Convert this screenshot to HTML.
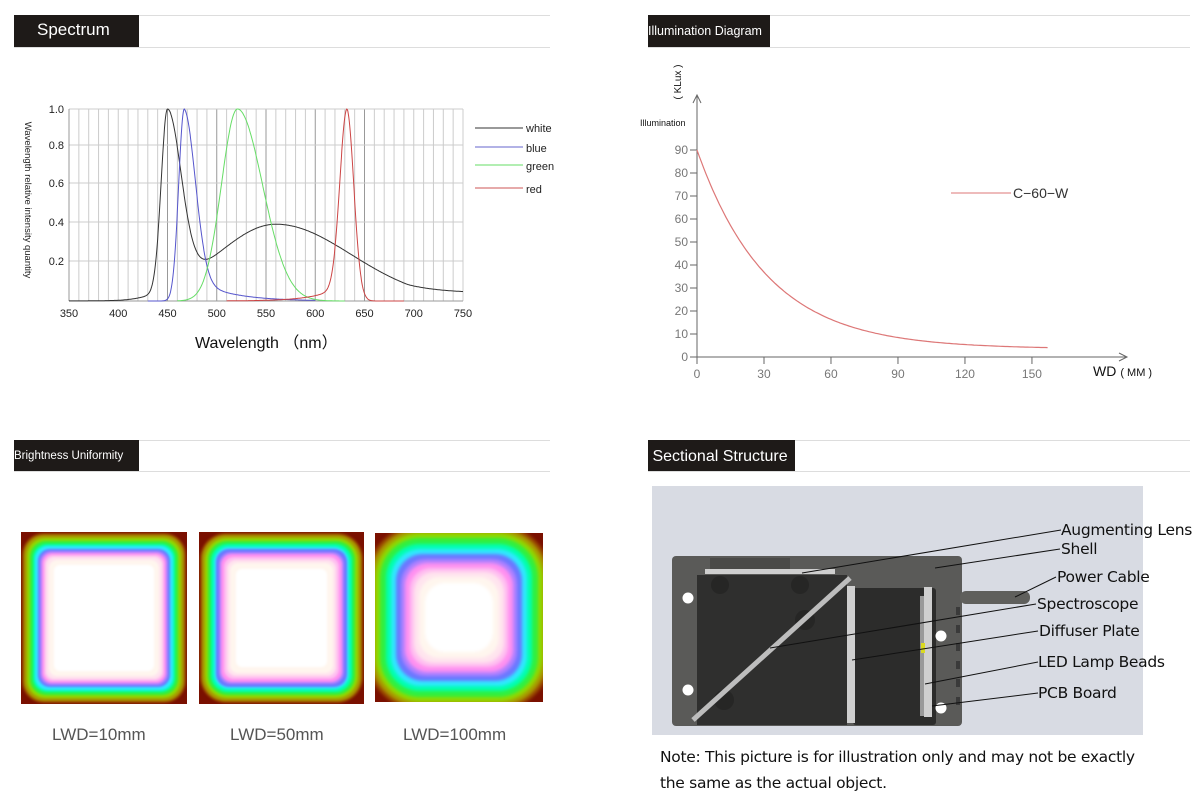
<!DOCTYPE html>
<html><head><meta charset="utf-8"><style>
body{margin:0;width:1198px;height:808px;background:#fff;overflow:hidden;position:relative;font-family:"Liberation Sans",sans-serif}
.hd{position:absolute;background:#1e1a18;color:#fff;white-space:nowrap}
.ln{position:absolute;height:1px;background:#ddd}
.hm{position:absolute;overflow:hidden}
.hm div{position:absolute}
.lab{position:absolute;font-size:17px;color:#555}
</style></head><body>
<div class="ln" style="left:14px;top:15px;width:536px"></div><div class="ln" style="left:14px;top:47px;width:536px"></div>
<div class="hd" style="left:14px;top:15px;width:125px;height:32px;font-size:17px;line-height:30px;"><span style="padding-left:23px">Spectrum</span></div>
<div class="ln" style="left:648px;top:15px;width:542px"></div><div class="ln" style="left:648px;top:47px;width:542px"></div>
<div class="hd" style="left:648px;top:15px;width:122px;height:32px;font-size:12.5px;line-height:32px;">Illumination Diagram</div>
<div class="ln" style="left:14px;top:440px;width:536px"></div><div class="ln" style="left:14px;top:471px;width:536px"></div>
<div class="hd" style="left:14px;top:440px;width:125px;height:31px;font-size:11.5px;line-height:33px;">Brightness Uniformity</div>
<div class="ln" style="left:648px;top:440px;width:542px"></div><div class="ln" style="left:648px;top:471px;width:542px"></div>
<div class="hd" style="left:648px;top:440px;width:147px;height:31px;font-size:16px;line-height:33px;">&nbsp;Sectional Structure</div>

<svg id="sp" width="600" height="380" style="position:absolute;left:0;top:0" font-family="Liberation Sans,sans-serif">
<g id="grid"></g>
<g font-size="11" fill="#222" text-anchor="end">
<text x="64" y="113">1.0</text><text x="64" y="149">0.8</text><text x="64" y="187">0.6</text><text x="64" y="226">0.4</text><text x="64" y="265">0.2</text></g>
<g font-size="11" fill="#222" text-anchor="middle" id="xl"></g>
<text transform="translate(25,200) rotate(90)" text-anchor="middle" font-size="9.5" fill="#222">Wavelength relative intensity quantity</text>
<text x="195" y="348" font-size="16" fill="#111">Wavelength （nm）</text>
<g id="curves" fill="none" stroke-width="1"></g>
<g font-size="11" fill="#222">
<line x1="475" y1="128" x2="523" y2="128" stroke="#333"/><text x="526" y="132">white</text>
<line x1="475" y1="147" x2="523" y2="147" stroke="#6666cc"/><text x="526" y="152">blue</text>
<line x1="475" y1="165" x2="523" y2="165" stroke="#66dd66"/><text x="526" y="170">green</text>
<line x1="475" y1="188" x2="523" y2="188" stroke="#cc5555"/><text x="526" y="193">red</text></g>
</svg>

<svg width="600" height="400" style="position:absolute;left:598px;top:0" font-family="Liberation Sans,sans-serif">
<g transform="translate(-598,0)">
<line x1="697" y1="364" x2="697" y2="95" stroke="#666"/><path d="M693 103 L697 95 L701 103" fill="none" stroke="#666"/>
<line x1="690" y1="357" x2="1127" y2="357" stroke="#666"/><path d="M1119 353 L1127 357 L1119 361" fill="none" stroke="#666"/>
<g id="ity" font-size="12" fill="#777" text-anchor="end"></g>
<g id="itx" font-size="12" fill="#777" text-anchor="middle"></g>
<text x="640" y="126" font-size="9" fill="#111">Illumination</text>
<text transform="translate(681,82) rotate(-90)" text-anchor="middle" font-size="10" fill="#111">( KLux )</text>
<text x="1093" y="376" font-size="14" fill="#111">WD<tspan font-size="11" dx="4">( MM )</tspan></text>
<line x1="951" y1="193" x2="1011" y2="193" stroke="#dd7777"/><text x="1013" y="198" font-size="14" fill="#333">C−60−W</text>
<path id="ic" fill="none" stroke="#dd7777" stroke-width="1.2"/>
</g></svg>

<div id="hms"></div>
<div class="lab" style="left:52px;top:725px">LWD=10mm</div>
<div class="lab" style="left:230px;top:725px">LWD=50mm</div>
<div class="lab" style="left:403px;top:725px">LWD=100mm</div>

<svg width="560" height="320" style="position:absolute;left:640px;top:480px" font-family="Liberation Sans,sans-serif">
<g transform="translate(-640,-480)">
<rect x="652" y="486" width="491" height="249" fill="#d8dbe3"/>
<rect x="672" y="556" width="290" height="170" rx="4" fill="#5a5a58"/>
<rect x="960" y="591" width="70" height="13" rx="6" fill="#5f5f5c"/>
<rect x="697" y="575" width="150" height="150" fill="#2f2f2e"/>
<rect x="710" y="558" width="80" height="14" fill="#4a4a48"/>
<rect x="853" y="588" width="83" height="137" rx="3" fill="#2c2c2b"/>
<circle cx="720" cy="585" r="9" fill="#262625"/><circle cx="800" cy="585" r="9" fill="#262625"/><circle cx="805" cy="620" r="10" fill="#262625"/><circle cx="724" cy="700" r="10" fill="#262625"/>
<rect x="705" y="569" width="130" height="5" fill="#cfcfcf"/>
<line x1="693" y1="720" x2="850" y2="578" stroke="#bdbdbd" stroke-width="5"/>
<rect x="847" y="586" width="8" height="137" fill="#cfcfcf"/>
<rect x="924" y="587" width="8" height="130" fill="#cfcfcf"/>
<rect x="920" y="596" width="4" height="120" fill="#999"/>
<rect x="921" y="643" width="4" height="10" fill="#dada20"/>
<g fill="#3a3a3a"><rect x="956" y="607" width="4" height="8"/><rect x="956" y="625" width="4" height="8"/><rect x="956" y="643" width="4" height="8"/><rect x="956" y="661" width="4" height="8"/><rect x="956" y="679" width="4" height="8"/><rect x="956" y="697" width="4" height="8"/></g>
<g fill="#fff"><circle cx="688" cy="598" r="5.5"/><circle cx="688" cy="690" r="5.5"/><circle cx="941" cy="636" r="5.5"/><circle cx="941" cy="708" r="5.5"/></g>
<g stroke="#111" stroke-width="1">
<line x1="802" y1="573" x2="1061" y2="530"/><line x1="935" y1="568" x2="1060" y2="549"/><line x1="1015" y1="597" x2="1056" y2="577"/>
<line x1="770" y1="648" x2="1036" y2="604"/><line x1="852" y1="660" x2="1038" y2="631"/><line x1="925" y1="684" x2="1038" y2="662"/><line x1="932" y1="706" x2="1038" y2="693"/></g>
<g font-size="15.5" fill="#111" font-family="DejaVu Sans,sans-serif" style="letter-spacing:-0.3px">
<text x="1061" y="535">Augmenting Lens</text><text x="1061" y="554">Shell</text><text x="1057" y="582">Power Cable</text>
<text x="1037" y="609">Spectroscope</text><text x="1039" y="636">Diffuser Plate</text><text x="1038" y="667">LED Lamp Beads</text><text x="1038" y="698">PCB Board</text></g>
<g font-size="15.5" fill="#111" font-family="DejaVu Sans,sans-serif" style="letter-spacing:-0.3px">
<text x="660" y="762">Note: This picture is for illustration only and may not be exactly</text>
<text x="660" y="788">the same as the actual object.</text></g>
</g></svg>

<script>
function X(nm){return 69+(nm-350)*0.985}
function Y(v){return 301-v*192}
var g=document.getElementById('grid'),h='';
for(var n=350;n<=750;n+=10){var dark=(n%50==0&&n>=450&&n<=650)?'#999':'#ccc';h+='<line x1="'+X(n)+'" y1="109" x2="'+X(n)+'" y2="301" stroke="'+dark+'" stroke-width="1"/>';}
[[1,109],[0.8,145],[0.6,183],[0.4,222],[0.2,261]].forEach(function(a){h+='<line x1="69" y1="'+a[1]+'" x2="463" y2="'+a[1]+'" stroke="#ccc"/>'});
h+='<line x1="69" y1="301" x2="463" y2="301" stroke="#999"/><line x1="69" y1="109" x2="69" y2="301" stroke="#999"/>';
g.innerHTML=h;
var xl='';for(n=350;n<=750;n+=50)xl+='<text x="'+X(n)+'" y="317">'+n+'</text>';document.getElementById('xl').innerHTML=xl;
function ag(x,c,l,r){var d=x-c,w=d<0?l:r;return Math.exp(-(d/w)*(d/w))}
function white(x){var b=ag(x,450,9,20);var p=0.4*ag(x,560,85,108);if(x>650)p=Math.max(p,0.04+0.16*Math.exp(-(x-650)/35));p=p*(x<450?0.3+0.7*Math.max(0,(x-400)/50):1);return b*(1-p)+p}
function blue(x){var d=x-467;if(d<0)return ag(x,467,8,8);return 0.85*Math.exp(-(d/16)*(d/16))+0.15*Math.exp(-d/35)}
function green(x){return ag(x,521,23,36)}
function red(x){var d=x-632;if(d>=0)return ag(x,632,10,10);return 0.9*Math.exp(-(d/10)*(d/10))+0.1*Math.exp(d/25)}
function path(f,a,b,c){var s='';for(var x=a;x<=b;x+=0.5){s+=(x==a?'M':'L')+X(x).toFixed(1)+' '+Y(f(x)).toFixed(1)}return '<path d="'+s+'" stroke="'+c+'"/>'}
document.getElementById('curves').innerHTML=path(white,350,750,'#333')+path(blue,430,600,'#5555cc')+path(green,460,630,'#66dd66')+path(red,510,690,'#cc4444');
var ty='',tx='';for(var v=0;v<=90;v+=10){var yy=357-v*2.3;ty+='<text x="688" y="'+(yy+4)+'">'+v+'</text><line x1="690" y1="'+yy+'" x2="697" y2="'+yy+'" stroke="#666"/>';}
document.getElementById('ity').innerHTML=ty;
for(var m=0;m<=150;m+=30){var xx=697+m*2.233;tx+='<text x="'+xx+'" y="378">'+m+'</text><line x1="'+xx+'" y1="357" x2="'+xx+'" y2="364" stroke="#666"/>';}
document.getElementById('itx').innerHTML=tx;
var s='';for(m=0;m<=157;m+=1){var val=3.5+86.5*Math.exp(-m/31.5);s+=(m?'L':'M')+(697+m*2.233).toFixed(1)+' '+(357-val*2.3).toFixed(1)}
document.getElementById('ic').setAttribute('d',s);
var cols=['#7a1000','#9a4a00','#a89a00','#90d800','#30f040','#00ffb0','#30e8ff','#6a78ff','#b080ff','#ff90f0','#ffc0f0','#ffe4ee','#fff6ee','#ffffff'];
function hm(l,t,w,hh,ins,rad,blur){var o='<div class="hm" style="left:'+l+'px;top:'+t+'px;width:'+w+'px;height:'+hh+'px;background:'+cols[0]+'"><div style="left:0;top:0;right:0;bottom:0;filter:blur('+blur+'px)">';
for(var i=1;i<cols.length;i++){var k=ins[i-1];o+='<div style="left:'+k+'px;top:'+k+'px;right:'+k+'px;bottom:'+k+'px;border-radius:'+rad[i-1]+'px;background:'+cols[i]+'"></div>'}
return o+'</div></div>'}
var H='';
H+=hm(21,532,166,172,[1,3,6,9,12,14,17,19,21,23,25,28,33],[22,20,18,16,14,13,12,11,10,9,8,8,6],1);
H+=hm(199,532,165,172,[1,3,6,9,12,15,17,20,22,25,28,31,37],[26,24,22,19,17,15,13,12,11,10,9,8,6],1);
H+=hm(375,533,168,169,[-10,-5,0,5,11,16,21,26,30,35,39,44,50],[60,52,46,40,34,30,27,25,23,21,20,20,20],1.5);
document.getElementById('hms').innerHTML=H;
</script>
</body></html>
